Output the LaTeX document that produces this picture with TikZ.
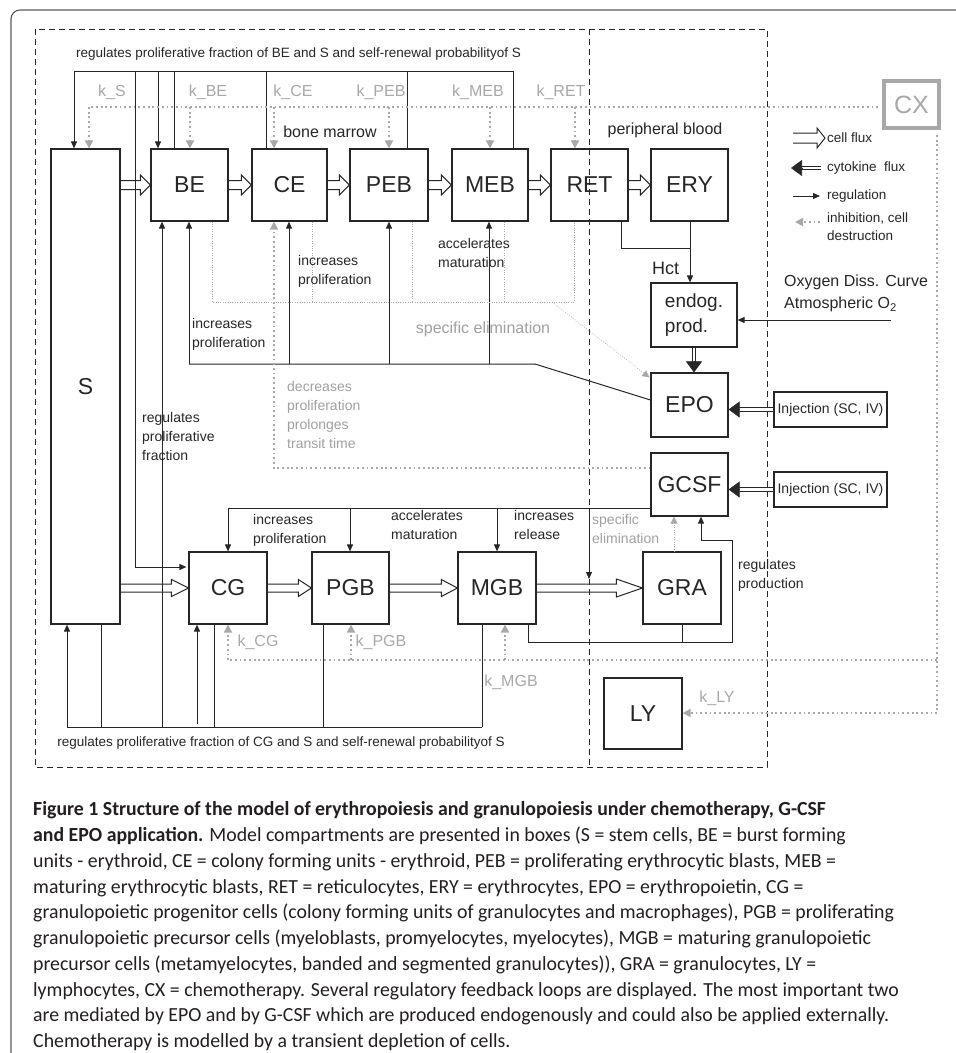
\documentclass[tikz,border=0pt]{standalone}
\usepackage{fontspec}
\setmainfont{Liberation Sans}
\newfontfamily\capfont[FakeStretch=0.99]{Carlito}
\usetikzlibrary{arrows.meta,calc}
\definecolor{ink}{HTML}{262626}
\definecolor{lgray}{HTML}{A8A8A8}
\definecolor{tgray}{HTML}{A0A0A0}
\definecolor{framec}{HTML}{5A5A5A}
\definecolor{capc}{HTML}{231F20}
\newcommand\cflux[5]{%
  \draw[fluxline] ($(#1)+(0,-#3)$) -- ($(#2)+(-#4,-#3)$) -- ($(#2)+(-#4,-#5)$) -- (#2)
    -- ($(#2)+(-#4,#5)$) -- ($(#2)+(-#4,#3)$) -- ($(#1)+(0,#3)$);}
\newcommand\cyto[2]{%
  \draw[cytoline] (#1) -- ($(#2)!10pt!(#1)$);
  \draw[cytotip] ($(#2)!11pt!(#1)$) -- (#2);}
\begin{document}
\begin{tikzpicture}[x=1pt,y=-1pt,
  box/.style={draw=ink, line width=1.2pt, minimum width=77pt, minimum height=72pt, inner sep=0pt,
    font=\fontsize{23}{23}\selectfont, text=ink},
  reg/.style={draw=ink, line width=1pt, -{Triangle[length=7pt,width=6pt]}},
  regline/.style={draw=ink, line width=1pt},
  inhl/.style={draw=lgray, line width=1.8pt, dash pattern=on 1.8pt off 2.9pt},
  inh/.style={inhl, -{Triangle[length=8pt,width=8pt]}},
  elim/.style={draw=lgray, line width=0.6pt, dash pattern=on 0.8pt off 1.6pt},
  elimarrow/.style={elim, -{Triangle[length=7pt,width=7pt]}},
  fluxline/.style={draw=ink, line width=1pt, line join=miter},
  cytoline/.style={draw=ink, double=white, double distance=2.6pt, line width=0.9pt},
  cytotip/.style={draw=ink, fill=ink, line width=0.6pt, -{Triangle[length=11pt,width=16pt]}},
  lbl/.style={font=\fontsize{14}{19}\selectfont, text=ink, align=left, inner sep=0pt},
  glbl/.style={lbl, text=tgray},
  klbl/.style={font=\fontsize{16}{16}\selectfont, text=lgray, inner sep=0pt},
  leg/.style={font=\fontsize{13.5}{18}\selectfont, text=ink, align=left, inner sep=0pt, anchor=west},
  capl/.style={font=\capfont\fontsize{20}{20}\selectfont, text=capc, inner sep=0pt, anchor=base west},
  dashbox/.style={draw=ink, line width=1pt, dash pattern=on 6pt off 4pt}
]
\useasboundingbox (0,0) rectangle (956,1053);
% outer frame
\draw[framec, line width=1.1pt, rounded corners=9pt] (960,10) -- (11,10) -- (11,1060);
% dashed regions
\draw[dashbox] (35,29) rectangle (767,767);
\draw[dashbox] (589,29) -- (589,767);

% boxes
\node[box, minimum width=69pt, minimum height=475pt] (S) at (85.5,386.5) {S};
\node[box] (BE) at (189.5,185) {BE};
\node[box, minimum width=75pt] (CE) at (289.5,185) {CE};
\node[box, minimum width=78pt] (PEB) at (389,185) {PEB};
\node[box, minimum width=76pt] (MEB) at (490,185) {MEB};
\node[box] (RET) at (589.5,185) {RET};
\node[box] (ERY) at (689.5,185) {ERY};
\node[box, minimum width=78pt] (CG) at (228,588) {CG};
\node[box] (PGB) at (350.5,588) {PGB};
\node[box, minimum width=78pt] (MGB) at (497,588) {MGB};
\node[box, minimum width=78pt] (GRA) at (682,588) {GRA};
\node[box, minimum width=78pt, minimum height=71pt] (LY) at (643,713.5) {LY};
\node[box, minimum height=63pt] (GCSF) at (689.5,484.5) {GCSF};
\node[box, minimum height=64pt] (EPO) at (689.5,405) {EPO};
\node[box, minimum width=86pt, minimum height=64pt, font=\fontsize{19}{25}\selectfont, align=left] (END) at (694,315) {endog.\\prod.};
\node[box, minimum width=113pt, minimum height=35pt, font=\fontsize{14}{14}\selectfont] (IE) at (830.5,409.5) {Injection (SC, IV)};
\node[box, minimum width=113pt, minimum height=35pt, font=\fontsize{14}{14}\selectfont] (IG) at (830.5,489.5) {Injection (SC, IV)};
\node[draw=lgray, line width=4pt, minimum width=55pt, minimum height=47pt, inner sep=0pt, text=lgray,
  font=\fontsize{25}{25}\selectfont] (CX) at (911.5,104.5) {CX};

% cell flux arrows
\cflux{S.east |- BE.west}{BE.west}{4.5}{10}{10}
\cflux{BE.east}{CE.west}{4.5}{10}{10}
\cflux{CE.east}{PEB.west}{4.5}{10}{10}
\cflux{PEB.east}{MEB.west}{4.5}{10}{10}
\cflux{MEB.east}{RET.west}{4.5}{10}{10}
\cflux{RET.east}{ERY.west}{4.5}{10}{10}
\cflux{S.east |- CG.west}{CG.west}{4}{17}{8.5}
\cflux{CG.east}{PGB.west}{4}{13}{8.5}
\cflux{PGB.east}{MGB.west}{4}{16}{8.5}
\cflux{MGB.east}{GRA.west}{4}{26}{9}

% cytokine flux
\cyto{IE.west}{EPO.east |- IE.west}
\cyto{IG.west}{GCSF.east |- IG.west}
\cyto{END.south}{END.south |- EPO.north}

% top regulation network
\coordinate (t1) at (74,71);
\coordinate (t2) at (513,71);
\coordinate (tBE) at (158,71);
\coordinate (fBE) at (174,71);
\coordinate (fCE) at (266,71);
\coordinate (fPEB) at (407,71);
\coordinate (tCG) at (135,71);
\coordinate (cgin) at ($(CG.west)+(0,-21)$);
\draw[regline] (t1) -- (t2);
\draw[reg] (t1) -- (t1 |- S.north);
\draw[reg] (tBE) -- (tBE |- BE.north);
\draw[regline] (fBE |- BE.north) -- (fBE);
\draw[regline] (fCE |- CE.north) -- (fCE);
\draw[regline] (fPEB |- PEB.north) -- (fPEB);
\draw[regline] (t2 |- MEB.north) -- (t2);
\draw[reg, shorten >=2pt] (tCG) -- (tCG |- cgin) -- (cgin);

% bottom regulation network
\coordinate (b1) at (67,727);
\coordinate (b2) at (482,727);
\coordinate (bS) at (101,727);
\coordinate (bBE) at (162,727);
\coordinate (bCG) at (197,724);
\coordinate (fCG) at (214,727);
\coordinate (fPGB) at (323,727);
\draw[regline] (b1) -- (b2);
\draw[reg] (b1) -- (b1 |- S.south);
\draw[regline] (bS |- S.south) -- (bS);
\draw[reg] (bBE) -- (bBE |- BE.south);
\draw[reg] (bCG) -- (bCG |- CG.south);
\draw[regline] (fCG |- CG.south) -- (fCG);
\draw[regline] (fPGB |- PGB.south) -- (fPGB);
\draw[regline] (b2 |- MGB.south) -- (b2);

% EPO network
\coordinate (eE) at ($(EPO.west)+(0,-5)$);
\coordinate (e1) at (535,364);
\coordinate (e0) at (189,364);
\coordinate (eCE) at (289,364);
\coordinate (ePEB) at (389,364);
\coordinate (eMEB) at (489,364);
\draw[regline] (eE) -- (e1) -- (e0);
\draw[reg] (e0) -- (e0 |- BE.south);
\draw[reg] (eCE) -- (eCE |- CE.south);
\draw[reg] (ePEB) -- (ePEB |- PEB.south);
\draw[reg] (eMEB) -- (eMEB |- MEB.south);

% specific elimination (erythroid)
\coordinate (s1) at (212,302);
\coordinate (s2) at (312,302);
\coordinate (s3) at (412,302);
\coordinate (s4) at (504,302);
\coordinate (s5) at (574,302);
\coordinate (s6) at (552,302);
\draw[elim] (s1 |- BE.south) -- (s1) -- (s5) -- (s5 |- RET.south);
\draw[elim] (s2 |- CE.south) -- (s2);
\draw[elim] (s3 |- PEB.south) -- (s3);
\draw[elim] (s4 |- MEB.south) -- (s4);
\draw[elimarrow] (s6) -- ($(EPO.north west)+(-1,5)$);

% G-CSF inhibition of CE
\coordinate (d1) at (274,468);
\draw[inh] (GCSF.west |- d1) -- (d1) -- (d1 |- CE.south);

% chemotherapy network
\coordinate (c0) at (89,107);
\coordinate (cBE) at (190,107);
\coordinate (cCE) at (274,107);
\coordinate (cPEB) at (389,107);
\coordinate (cMEB) at (490,107);
\coordinate (cRET) at (575,107);
\draw[inhl, shorten <=4pt] (CX.west |- c0) -- (c0);
\draw[inh] (c0) -- (c0 |- S.north);
\draw[inh] (cBE) -- (cBE |- BE.north);
\draw[inh] (cCE) -- (cCE |- CE.north);
\draw[inh] (cPEB) -- (cPEB |- PEB.north);
\draw[inh] (cMEB) -- (cMEB |- MEB.north);
\draw[inh] (cRET) -- (cRET |- RET.north);
\coordinate (c2) at (937,660);
\coordinate (c3) at (937,713);
\coordinate (c4) at (228,660);
\coordinate (c5) at (351,660);
\coordinate (c6) at (505,660);
\draw[inhl, shorten <=5pt] (CX.south -| c2) -- (c3);
\draw[inh] (c3) -- (c3 -| LY.east);
\draw[inhl] (c2) -- (c4);
\draw[inh] (c4) -- (c4 |- CG.south);
\draw[inh] (c5) -- (c5 |- PGB.south);
\draw[inh] (c6) -- (c6 |- MGB.south);

% G-CSF regulation network
\coordinate (g0) at (228,508);
\coordinate (gPGB) at (350,508);
\coordinate (gMGB) at (497,508);
\coordinate (gR) at (589,508);
\coordinate (rel) at (589,579);
\draw[regline] (GCSF.west |- g0) -- (g0);
\draw[reg] (g0) -- (g0 |- CG.north);
\draw[reg] (gPGB) -- (gPGB |- PGB.north);
\draw[reg] (gMGB) -- (gMGB |- MGB.north);
\draw[reg] (gR) -- (rel);

% granulocyte feedback
\coordinate (gg) at (674,552);
\draw[elimarrow] (gg) -- (gg |- GCSF.south);
\coordinate (p1) at (528,642);
\coordinate (p2) at (732,642);
\coordinate (p3) at (732,540);
\coordinate (p4) at (701,540);
\draw[regline] (p1 |- MGB.south) -- (p1) -- (p2) -- (p3) -- (p4);
\draw[reg] (p4) -- (p4 |- GCSF.south);
\draw[regline] (GRA.south) -- (GRA.south |- p1);

% Hct
\coordinate (h1) at (621,248);
\coordinate (h2) at (690,248);
\draw[regline] (h1 |- RET.south) -- (h1) -- (h2);
\draw[reg] (h2 |- ERY.south) -- (h2 |- END.north);
\coordinate (o2) at (891,320);
\draw[reg] (o2) -- (o2 -| END.east);

% legend
\coordinate (lf1) at (793,138); \coordinate (lf2) at (825,138);
\cflux{lf1}{lf2}{5}{8}{10}
\coordinate (lc1) at (821,168); \coordinate (lc2) at (791,168);
\cyto{lc1}{lc2}
\coordinate (lr1) at (793,196); \coordinate (lr2) at (820,196);
\draw[reg] (lr1) -- (lr2);
\coordinate (li1) at (820,222); \coordinate (li2) at (795,222);
\draw[inh] (li1) -- (li2);
\node[leg] (L1) at (827,138) {cell flux};
\node[leg] (L2) at (827,168) {cytokine\ \ flux};
\node[leg] (L3) at (827,196) {regulation};
\node[leg, anchor=north west] (L4) at (827,213) {inhibition, cell\\destruction};

% labels
\node[lbl, font=\fontsize{13.5}{19}\selectfont] (topt) at (298.5,54) {regulates proliferative fraction of BE and S and self-renewal probabilityof S};
\node[lbl, font=\fontsize{13.5}{19}\selectfont] (bott) at (281,743) {regulates proliferative fraction of CG and S and self-renewal probabilityof S};
\node[klbl] (kS) at (112,92) {k\_S};
\node[klbl] (kBE) at (208,92) {k\_BE};
\node[klbl] (kCE) at (293,92) {k\_CE};
\node[klbl] (kPEB) at (381,92) {k\_PEB};
\node[klbl] (kMEB) at (478,92) {k\_MEB};
\node[klbl] (kRET) at (561,92) {k\_RET};
\node[klbl] (kCG) at (258,642) {k\_CG};
\node[klbl] (kPGB) at (381,642) {k\_PGB};
\node[klbl] (kMGB) at (511,682) {k\_MGB};
\node[klbl] (kLY) at (717,698) {k\_LY};
\node[lbl, font=\fontsize{16}{16}\selectfont] (bm) at (330,132) {bone marrow};
\node[lbl, font=\fontsize{16}{16}\selectfont] (pb) at (665,130) {peripheral blood};
\node[lbl, anchor=north west] (ip1) at (298,255) {increases\\proliferation};
\node[lbl, anchor=north west] (ip2) at (192,318) {increases\\proliferation};
\node[lbl, anchor=north west] (am1) at (438,238) {accelerates\\maturation};
\node[glbl, font=\fontsize{16}{16}\selectfont] (se1) at (483,329) {specific elimination};
\node[lbl, anchor=north west] (rpf) at (142,412) {regulates\\proliferative\\fraction};
\node[glbl, anchor=north west] (dec) at (287,381) {decreases\\proliferation\\prolonges\\transit time};
\node[lbl, font=\fontsize{18}{18}\selectfont, anchor=west] (hct) at (652,268) {Hct};
\node[lbl, font=\fontsize{16}{22}\selectfont, anchor=north west] (oxy) at (784,275) {Oxygen Diss. Curve\\Atmospheric O\textsubscript{2}};
\node[lbl, anchor=north west] (ip3) at (253,514) {increases\\proliferation};
\node[lbl, anchor=north west] (am2) at (391,510) {accelerates\\maturation};
\node[lbl, anchor=north west] (ir) at (514,510) {increases\\release};
\node[glbl, anchor=north west] (se2) at (592,514) {specific\\elimination};
\node[lbl, anchor=north west] (rp) at (738,559) {regulates\\production};

% caption
\node[capl] (cap1) at (33,815) {\bfseries Figure 1 Structure of the model of erythropoiesis and granulopoiesis under chemotherapy, G-CSF};
\node[capl] (cap2) at (33,841) {\textbf{and EPO application.} Model compartments are presented in boxes (S = stem cells, BE = burst forming};
\node[capl] (cap3) at (33,867) {units - erythroid, CE = colony forming units - erythroid, PEB = proliferating erythrocytic blasts, MEB =};
\node[capl] (cap4) at (33,893) {maturing erythrocytic blasts, RET = reticulocytes, ERY = erythrocytes, EPO = erythropoietin, CG =};
\node[capl] (cap5) at (33,918) {granulopoietic progenitor cells (colony forming units of granulocytes and macrophages), PGB = proliferating};
\node[capl] (cap6) at (33,944) {granulopoietic precursor cells (myeloblasts, promyelocytes, myelocytes), MGB = maturing granulopoietic};
\node[capl] (cap7) at (33,970) {precursor cells (metamyelocytes, banded and segmented granulocytes)), GRA = granulocytes, LY =};
\node[capl] (cap8) at (33,996) {lymphocytes, CX = chemotherapy. Several regulatory feedback loops are displayed. The most important two};
\node[capl] (cap9) at (33,1021) {are mediated by EPO and by G-CSF which are produced endogenously and could also be applied externally.};
\node[capl] (cap10) at (33,1047) {Chemotherapy is modelled by a transient depletion of cells.};
\end{tikzpicture}
\end{document}
